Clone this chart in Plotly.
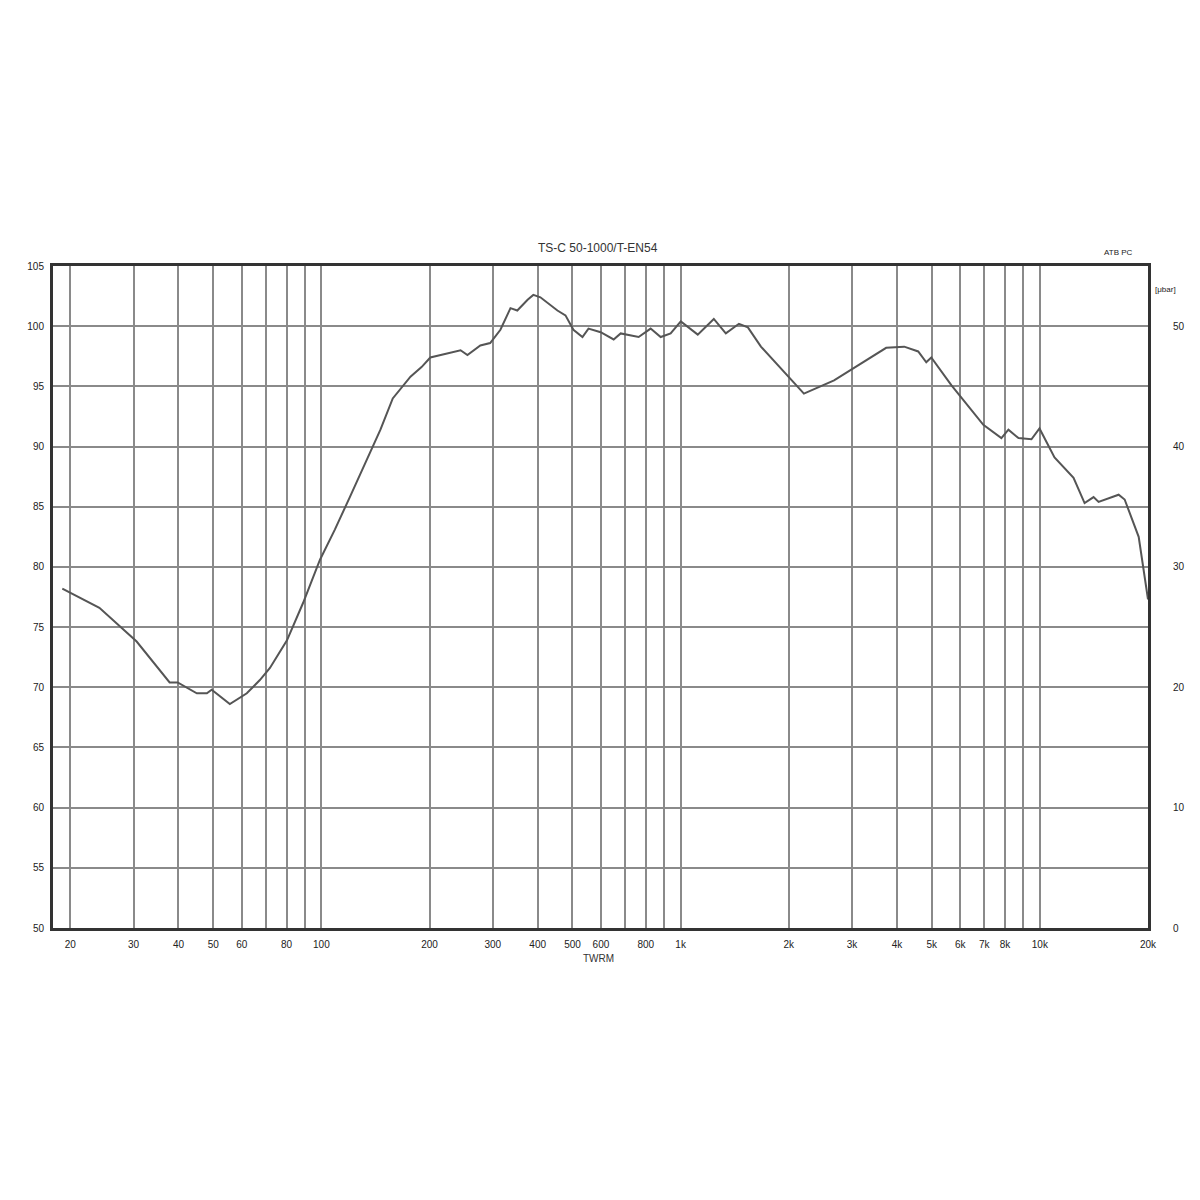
import plotly.graph_objects as go
import math

# Frequency response data (Hz, dB)
freq = [19.0, 24.1, 30.6, 37.8, 39.8, 45.0, 48.0, 49.5, 55.6, 62.0, 67.4, 71.9, 80.2, 88.9, 99.1,
        109, 120, 132, 146, 158, 177, 190, 201, 244, 255, 277, 295, 315, 336, 351, 375, 389, 407,
        454, 478, 503, 533, 554, 599, 651, 681, 764, 825, 880, 938, 1001, 1116, 1237, 1336, 1453,
        1539, 1673, 1902, 2163, 2204, 2674, 2982, 3391, 3734, 4192, 4585, 4828, 4986, 5669, 6961,
        7815, 8175, 8718, 9476, 9977, 10985, 12410, 13320, 14110, 14570, 16570, 17220, 18840, 20000]
spl = [78.2, 76.6, 73.8, 70.4, 70.4, 69.5, 69.5, 69.8, 68.6, 69.5, 70.6, 71.6, 73.9, 77.0, 80.6,
       83.1, 85.8, 88.5, 91.4, 94.0, 95.8, 96.6, 97.4, 98.0, 97.6, 98.4, 98.6, 99.7, 101.5, 101.3,
       102.2, 102.6, 102.4, 101.3, 100.9, 99.7, 99.1, 99.8, 99.5, 98.9, 99.4, 99.1, 99.8, 99.1,
       99.4, 100.4, 99.3, 100.6, 99.4, 100.2, 99.9, 98.3, 96.5, 94.7, 94.4, 95.5, 96.4, 97.4, 98.2,
       98.3, 97.9, 97.0, 97.4, 95.1, 91.8, 90.7, 91.4, 90.7, 90.6, 91.5, 89.1, 87.4, 85.3, 85.8,
       85.4, 86.0, 85.6, 82.5, 77.3]

grid_freqs = [20, 30, 40, 50, 60, 70, 80, 90, 100, 200, 300, 400, 500, 600, 700, 800, 900,
              1000, 2000, 3000, 4000, 5000, 6000, 7000, 8000, 9000, 10000, 20000]
grid_labels = ["20", "30", "40", "50", "60", "", "80", "", "100", "200", "300", "400", "500",
               "600", "", "800", "", "1k", "2k", "3k", "4k", "5k", "6k", "7k", "8k", "", "10k", "20k"]

y_ticks = [50, 55, 60, 65, 70, 75, 80, 85, 90, 95, 100, 105]
right_ticks = [0, 10, 20, 30, 40, 50]

title_text = "TS-C 50-1000/T-EN54"
corner_text = "ATB PC"
unit_text = "[μbar]"
x_title = "TWRM"

fig = go.Figure()
fig.add_trace(go.Scatter(x=freq, y=spl, mode="lines",
                         line=dict(color="#555555", width=2), showlegend=False))
# invisible trace for right axis
fig.add_trace(go.Scatter(x=[freq[0]], y=[0], yaxis="y2", mode="markers",
                         marker=dict(opacity=0), showlegend=False, hoverinfo="skip"))

font = dict(family="Liberation Sans, Arial, sans-serif", size=10, color="#222222")

fig.update_layout(
    width=1200, height=1200,
    margin=dict(l=45, r=60, t=258, b=280, autoexpand=False),
    paper_bgcolor="white", plot_bgcolor="white",
    font=font,
    xaxis=dict(type="log", range=[math.log10(17.9), math.log10(20000)],
               tickvals=grid_freqs, ticktext=grid_labels, tickfont=dict(size=10),
               ticklabelstandoff=5,
               showgrid=True, gridcolor="#8a8a8a", gridwidth=2,
               showline=True, linecolor="#333333", linewidth=3, mirror=True,
               ticks="", zeroline=False),
    yaxis=dict(range=[50, 105], tickvals=y_ticks, tickfont=dict(size=10),
               ticklabelstandoff=4,
               showgrid=True, gridcolor="#8a8a8a", gridwidth=2,
               showline=True, linecolor="#333333", linewidth=3, mirror=True,
               ticks="", zeroline=False),
    yaxis2=dict(range=[0, 55], overlaying="y", side="right", tickvals=right_ticks,
                ticklabelstandoff=24,
                showgrid=False, zeroline=False, ticks="", tickfont=dict(size=10)),
    annotations=[
        dict(text=title_text, xref="paper", yref="paper", x=0.498, y=1.027,
             yanchor="middle", showarrow=False, font=dict(size=12, color="#333333")),
        dict(text=corner_text, xref="paper", yref="paper", x=0.988, y=1.021,
             yanchor="middle", showarrow=False, font=dict(size=8, color="#222222")),
        dict(text=unit_text, xref="paper", yref="paper", x=1.027, y=0.964,
             yanchor="middle", showarrow=False, font=dict(size=8, color="#222222")),
        dict(text=x_title, xref="paper", yref="paper", x=0.498, y=-0.046,
             yanchor="middle", showarrow=False, font=dict(size=10, color="#333333")),
    ],
)

fig.write_html("out.html")
